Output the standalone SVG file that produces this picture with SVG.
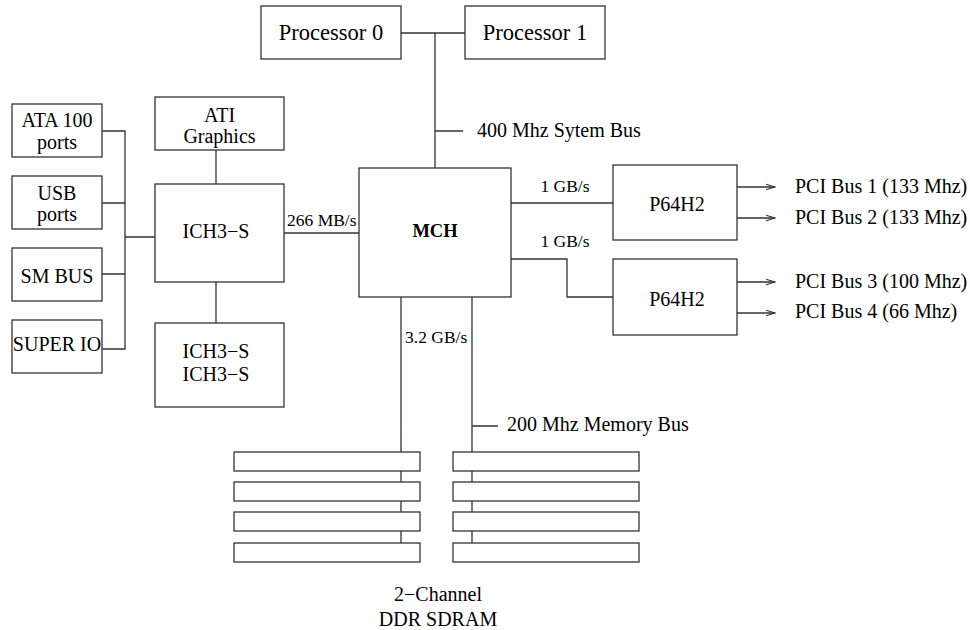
<svg xmlns="http://www.w3.org/2000/svg" width="970" height="630" viewBox="0 0 970 630">
<style>
.box{fill:#fff;stroke:#333;stroke-width:1.3}
.ln{fill:none;stroke:#333;stroke-width:1.3}
text{font-family:"Liberation Serif","Times New Roman",serif;font-size:20px;fill:#000}
.c{text-anchor:middle}
.s{font-size:17.5px}
.p{font-size:22.5px}
.b{font-weight:bold;font-size:18.5px}
</style>
<defs>
<marker id="ar" markerWidth="10" markerHeight="8" refX="9" refY="4" orient="auto" markerUnits="userSpaceOnUse">
<path d="M0,1.2 L9,4 L0,6.8" fill="none" stroke="#333" stroke-width="1.1"/>
</marker>
</defs>
<rect width="970" height="630" fill="#fff"/>
<g id="connectors">
<path class="ln" d="M401,33 H465 M435,33 V168 M435,131 H463"/>
<path class="ln" d="M102,131 H125 V349 H102 M102,203 H125 M102,274 H125 M125,237 H155"/>
<path class="ln" d="M216,150 V184 M216,282 V323"/>
<path class="ln" d="M284,233 H359"/>
<path class="ln" d="M511,203 H613 M511,259 H567 V297 H613"/>
<path class="ln" d="M401,297 V543 M472,297 V543 M472,426 H498"/>
<line class="ln" x1="737" y1="187" x2="775" y2="187" marker-end="url(#ar)"/>
<line class="ln" x1="737" y1="218" x2="775" y2="218" marker-end="url(#ar)"/>
<line class="ln" x1="737" y1="282" x2="775" y2="282" marker-end="url(#ar)"/>
<line class="ln" x1="737" y1="313" x2="775" y2="313" marker-end="url(#ar)"/>
</g>
<g id="proc0"><rect class="box" x="261" y="6" width="140" height="53"/><text class="c p" x="331" y="40">Processor 0</text></g>
<g id="proc1"><rect class="box" x="465" y="6" width="140" height="53"/><text class="c p" x="535" y="40">Processor 1</text></g>
<g id="sysbus"><text x="477" y="137">400 Mhz Sytem Bus</text></g>
<g id="ata"><rect class="box" x="12" y="104" width="90" height="53"/><text class="c" x="57" y="127">ATA 100</text><text class="c" x="57" y="149">ports</text></g>
<g id="usb"><rect class="box" x="12" y="176" width="90" height="53"/><text class="c" x="57" y="200">USB</text><text class="c" x="57" y="221">ports</text></g>
<g id="smbus"><rect class="box" x="12" y="248" width="90" height="53"/><text class="c" x="57" y="283">SM BUS</text></g>
<g id="superio"><rect class="box" x="12" y="320" width="90" height="53"/><text class="c" x="57" y="351">SUPER IO</text></g>
<g id="ati"><rect class="box" x="155" y="97" width="129" height="53"/><text class="c" x="219.5" y="122">ATI</text><text class="c" x="219.5" y="143">Graphics</text></g>
<g id="ich"><rect class="box" x="155" y="184" width="129" height="98"/><text class="c" x="216" y="238">ICH3−S</text></g>
<g id="ich2"><rect class="box" x="155" y="323" width="129" height="84"/><text class="c" x="216" y="358">ICH3−S</text><text class="c" x="216" y="381">ICH3−S</text></g>
<g id="lbl266"><text class="s" x="287" y="226">266 MB/s</text></g>
<g id="mch"><rect class="box" x="359" y="168" width="152" height="129"/><text class="c b" x="435" y="237">MCH</text></g>
<g id="lbl1gb"><text class="c s" x="565" y="192">1 GB/s</text><text class="c s" x="565" y="247">1 GB/s</text></g>
<g id="lbl32"><text class="s" x="405" y="343">3.2 GB/s</text></g>
<g id="p64a"><rect class="box" x="613" y="165" width="124" height="75"/><text class="c" x="677" y="211">P64H2</text></g>
<g id="p64b"><rect class="box" x="613" y="259" width="124" height="76"/><text class="c" x="677" y="306">P64H2</text></g>
<g id="pci"><text x="795" y="193">PCI Bus 1 (133 Mhz)</text><text x="795" y="224">PCI Bus 2 (133 Mhz)</text><text x="795" y="288">PCI Bus 3 (100 Mhz)</text><text x="795" y="318">PCI Bus 4 (66 Mhz)</text></g>
<g id="membus"><text x="507" y="431">200 Mhz Memory Bus</text></g>
<g id="dimm-left">
<rect class="box" x="234" y="452" width="186" height="19"/>
<rect class="box" x="234" y="482" width="186" height="19"/>
<rect class="box" x="234" y="512" width="186" height="19"/>
<rect class="box" x="234" y="543" width="186" height="19"/>
</g>
<g id="dimm-right">
<rect class="box" x="453" y="452" width="186" height="19"/>
<rect class="box" x="453" y="482" width="186" height="19"/>
<rect class="box" x="453" y="512" width="186" height="19"/>
<rect class="box" x="453" y="543" width="186" height="19"/>
</g>
<g id="sdram"><text class="c" x="438" y="601">2−Channel</text><text class="c" x="438" y="626">DDR SDRAM</text></g>
</svg>
